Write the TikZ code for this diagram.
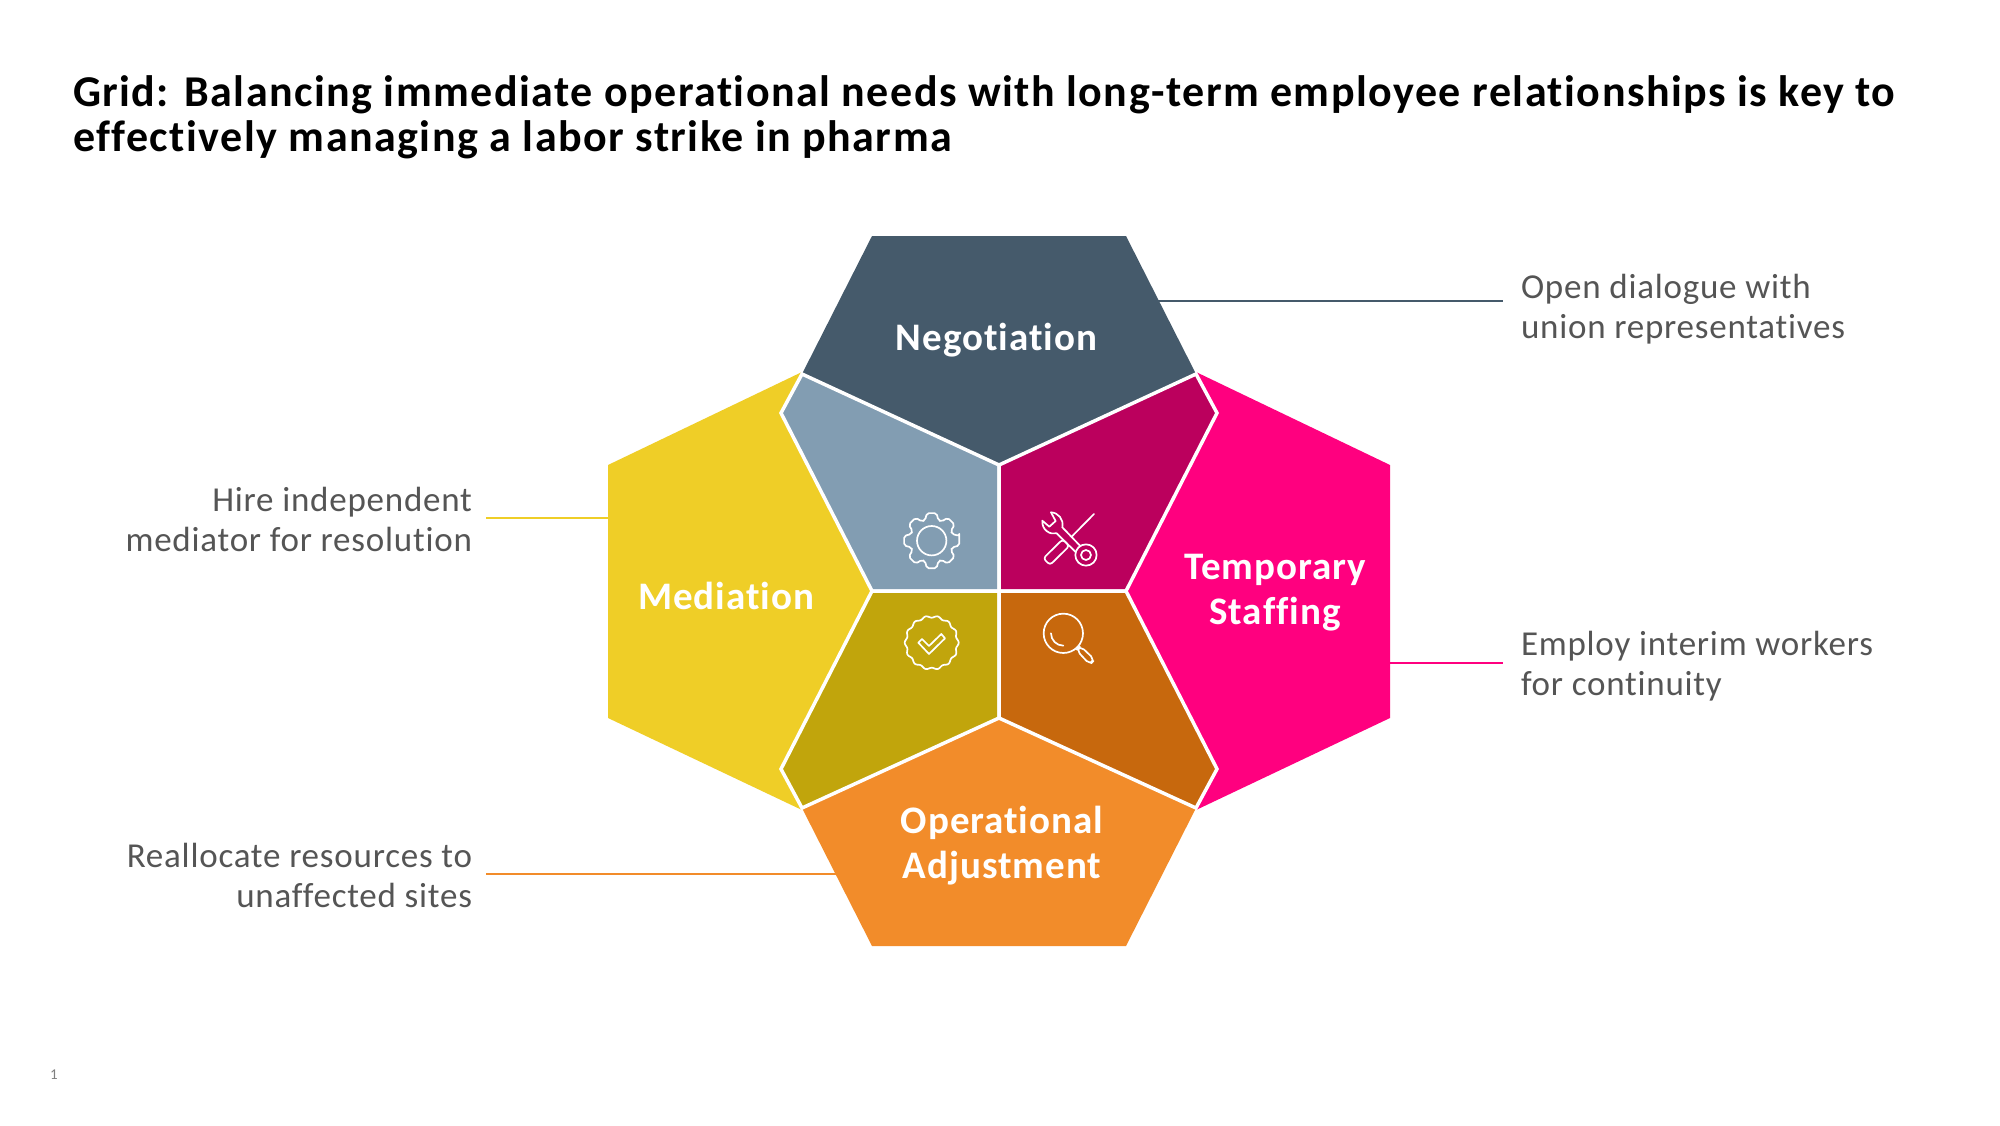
\documentclass[tikz,border=0pt]{standalone}
\usepackage{fontspec}
\setmainfont{Carlito}
\newfontfamily\titlefont[LetterSpace=3.35,Ligatures=CommonOff]{Carlito}
\newfontfamily\hexfont[LetterSpace=2.5,Ligatures=CommonOff]{Carlito}
\newfontfamily\notefont[LetterSpace=2.2,Ligatures=CommonOff]{Carlito}
\definecolor{cNeg}{HTML}{455A6B}
\definecolor{cNegD}{HTML}{829DB2}
\definecolor{cTmp}{HTML}{FF007F}
\definecolor{cTmpD}{HTML}{BB005D}
\definecolor{cMed}{HTML}{EFCE27}
\definecolor{cMedD}{HTML}{C1A50C}
\definecolor{cOpr}{HTML}{F28C2A}
\definecolor{cOprD}{HTML}{C7680D}
\definecolor{cTxt}{HTML}{555555}
\tikzset{
  every node/.style={inner sep=0pt,outer sep=0pt},
  titletext/.style={anchor=base west,align=left,font=\titlefont\fontsize{44}{45}\selectfont\bfseries,text=black},
  hexlabel/.style={anchor=base,align=center,text=white,font=\hexfont\fontsize{39}{45}\selectfont\bfseries},
  notel/.style={anchor=base west,align=left,text=cTxt,font=\notefont\fontsize{35}{40}\selectfont},
  noter/.style={anchor=base east,align=right,text=cTxt,font=\notefont\fontsize{35}{40}\selectfont},
  inner/.style={draw=white,line width=3.5pt,line join=miter},
  conn/.style={line width=1.2pt},
  iconline/.style={draw=white,line width=1.7pt,line join=round,line cap=round},
}
\begin{document}
\begin{tikzpicture}[x=1pt,y=-1pt]
\useasboundingbox (0,0) rectangle (2000,1125);
\fill[white] (0,0) rectangle (2000,1125);
% connector ends
\coordinate (negA) at (1158,301); \coordinate (negB) at (1503,301);
\coordinate (tmpA) at (1389,663); \coordinate (tmpB) at (1503,663);
\coordinate (medA) at (608,518);  \coordinate (medB) at (486,518);
\coordinate (oprA) at (836,874);  \coordinate (oprB) at (486,874);
\draw[conn,cNeg] (negA) -- (negB);
\draw[conn,cTmp] (tmpA) -- (tmpB);
\draw[conn,cMed] (medA) -- (medB);
\draw[conn,cOpr] (oprA) -- (oprB);
% outer shapes
\fill[cMed] (608,465) -- (802,372) -- (781,413) -- (872,591) -- (781,769) -- (802,810) -- (608,718) -- cycle;
\fill[cTmp] (1390,465) -- (1196,372) -- (1217,413) -- (1126,591) -- (1217,769) -- (1196,810) -- (1390,718) -- cycle;
\fill[cNeg] (872,236) -- (1126,236) -- (1196,374) -- (999,465) -- (802,374) -- cycle;
\fill[cOpr] (872,946) -- (1126,946) -- (1196,808) -- (999,718) -- (802,808) -- cycle;
% inner quadrants
\filldraw[inner,fill=cNegD] (802,374) -- (781,413) -- (872,591) -- (999,591) -- (999,465) -- cycle;
\filldraw[inner,fill=cTmpD] (1196,374) -- (1217,413) -- (1126,591) -- (999,591) -- (999,465) -- cycle;
\filldraw[inner,fill=cMedD] (802,808) -- (781,769) -- (872,591) -- (999,591) -- (999,718) -- cycle;
\filldraw[inner,fill=cOprD] (1196,808) -- (1217,769) -- (1126,591) -- (999,591) -- (999,718) -- cycle;
% icons
\begin{scope}[shift={(931.7,540.7)}]
  \draw[iconline] (0,0) circle (14.7);
  \draw[iconline,rounded corners=2pt] (-10:28)
    \foreach \a in {0,45,...,315} { -- (\a-10:28) -- (\a+10:28) -- (\a+18:21.5) -- (\a+27:21.5) } -- cycle;
\end{scope}
\begin{scope}[shift={(931.7,642.7)}]
  \draw[iconline] plot[domain=0:357,samples=120,smooth cycle] ({(26+1*cos(14*\x))*cos(\x)},{(26+1*cos(14*\x))*sin(\x)});
\end{scope}
\begin{scope}[shift={(880,490)},x=0.3333pt,y=-0.3333pt]
  % check
  \draw[iconline] (115,458) -- (126,447) -- (147,468) -- (184,432) -- (195,445) -- (147,492) -- cycle;
  % magnifier
  \draw[iconline] (550,430) circle (59);
  \draw[iconline] (513,430) arc[start angle=180,end angle=90,radius=37];
  \draw[iconline,rounded corners=5pt] (589,480) -- (601,468) -- (644,509) -- (630,524) -- cycle;
  % wrench
  \draw[iconline] (618,195) circle (32);
  \draw[iconline] (618,195) circle (15);
  \draw[iconline] (513,67) .. controls (535,68) and (552,88) .. (547,112) -- (600,167);
  \draw[iconline] (587,186) -- (530,130) .. controls (510,135) and (485,120) .. (487,92) -- (508,110) -- (527,93) -- (513,67);
  % screwdriver
  \draw[iconline] (642,72) -- (575,140);
  \draw[iconline,rounded corners=3pt] (490,205) -- (548,148) -- (568,168) -- (510,225) -- cycle;
\end{scope}
% texts
\node[titletext] (title) at (73,151) {Grid: Balancing immediate operational needs with long-term employee relationships is key to\\effectively managing a labor strike in pharma};
\node[hexlabel] (lNeg) at (996.5,350) {Negotiation};
\node[hexlabel] (lMed) at (726,609) {Mediation};
\node[hexlabel] (lTmp) at (1275,624) {Temporary\\Staffing};
\node[hexlabel] (lOpr) at (1002,878) {Operational\\Adjustment};
\node[notel] (nNeg) at (1521,338) {Open dialogue with\\union representatives};
\node[notel] (nTmp) at (1521,695) {Employ interim workers\\for continuity};
\node[noter] (nMed) at (472,551) {Hire independent\\mediator for resolution};
\node[noter] (nOpr) at (472,907) {Reallocate resources to\\unaffected sites};
\node[text=gray,font=\fontsize{15}{15}\selectfont,anchor=center] (page) at (54,1075) {1};
\end{tikzpicture}
\end{document}
